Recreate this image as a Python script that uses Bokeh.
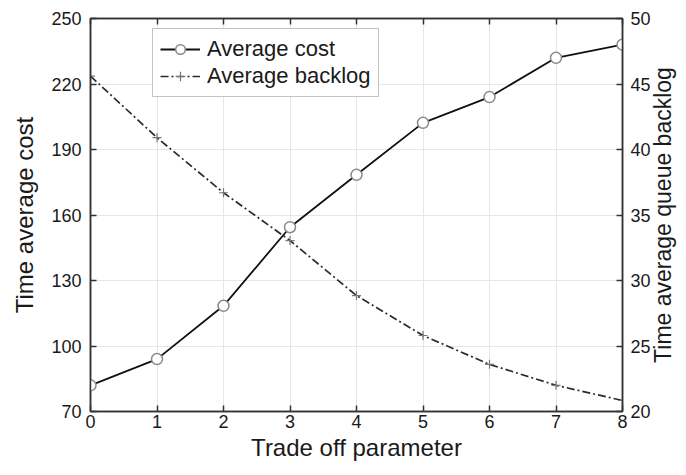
import math
from bokeh.plotting import figure
from bokeh.models import LinearAxis, Range1d, FixedTicker, Legend, LegendItem, Label
from bokeh.embed import file_html
from bokeh.resources import INLINE

x_vals = [0, 1, 2, 3, 4, 5, 6, 7, 8]
avg_cost = [82, 94, 118.4, 154.4, 178.4, 202.2, 214, 232, 238]
avg_backlog = [45.6, 40.9, 36.7, 33.05, 28.85, 25.8, 23.6, 22.0, 20.84]
x_ticks = [0, 1, 2, 3, 4, 5, 6, 7, 8]
left_ticks = [70, 100, 130, 160, 190, 220, 250]
right_ticks = [20, 25, 30, 35, 40, 45, 50]

FONT = "Liberation Sans"
TXT = "#1a1a1a"
AX = "#333333"

W, H = 680, 470
BL, BR, BT, BB = 90, 58, 18, 59
FW, FH = W - BL - BR, H - BT - BB

p = figure(width=W, height=H, output_backend="svg", toolbar_location=None,
           x_range=Range1d(0, 8), y_range=Range1d(70, 250),
           min_border_left=BL, min_border_right=BR, min_border_top=BT, min_border_bottom=BB)
p.extra_y_ranges = {"right": Range1d(20, 50)}

p.outline_line_color = AX
p.outline_line_width = 1.5
p.background_fill_color = "white"
p.border_fill_color = "white"

for g in (p.xgrid, p.ygrid):
    g.grid_line_color = "#e6e6e6"
    g.grid_line_width = 1
p.xgrid.ticker = FixedTicker(ticks=x_ticks)
p.ygrid.ticker = FixedTicker(ticks=left_ticks)

def style_axis(ax):
    ax.axis_line_color = AX
    ax.axis_line_width = 1.5
    ax.major_tick_line_color = AX
    ax.major_tick_line_width = 1.5
    ax.major_tick_in = 6
    ax.major_tick_out = 0
    ax.minor_tick_line_color = None
    ax.major_label_text_font = FONT
    ax.major_label_text_font_size = "18px"
    ax.major_label_text_color = TXT
    ax.axis_label_text_font = FONT
    ax.axis_label_text_font_size = "24px"
    ax.axis_label_text_font_style = "normal"
    ax.axis_label_text_color = TXT

xa = p.xaxis[0]
xa.ticker = FixedTicker(ticks=x_ticks)
xa.axis_label = "Trade off parameter"
style_axis(xa)
xa.major_label_standoff = 3
xa.axis_label_standoff = 3

ya = p.yaxis[0]
ya.ticker = FixedTicker(ticks=left_ticks)
ya.axis_label = "Time average cost"
style_axis(ya)
ya.major_label_standoff = 9
ya.axis_label_standoff = 10

ra = LinearAxis(y_range_name="right", ticker=FixedTicker(ticks=right_ticks))
style_axis(ra)
ra.major_label_standoff = 8
p.add_layout(ra, "right")

right_title = Label(x=9, y=FH / 2, x_units="screen", y_units="screen",
                    text="Time average queue backlog", angle=math.pi / 2,
                    text_align="center", text_baseline="middle",
                    text_font=FONT, text_font_size="23px", text_color=TXT)
p.add_layout(right_title, "right")

ta = LinearAxis(ticker=FixedTicker(ticks=x_ticks))
style_axis(ta)
ta.major_label_text_font_size = "0px"
ta.major_label_text_color = None
ta.major_label_standoff = 0
p.add_layout(ta, "above")

l1 = p.line(x_vals, avg_cost, line_color="#111111", line_width=1.8)
m1 = p.scatter(x_vals, avg_cost, marker="circle", size=11, line_color="#8a8a8a",
               line_width=1.5, fill_color="white")
l2 = p.line(x_vals, avg_backlog, y_range_name="right", line_color="#2a2a2a",
            line_width=1.7, line_dash="8 3 2 3")
m2 = p.scatter(x_vals, avg_backlog, y_range_name="right", marker="cross", size=9,
               line_color="#777777", line_width=1.2)

legend = Legend(items=[LegendItem(label="Average cost", renderers=[l1, m1]),
                       LegendItem(label="Average backlog", renderers=[l2, m2])],
                location=(62, 314))
legend.label_text_font = FONT
legend.label_text_font_size = "22px"
legend.label_text_color = TXT
legend.border_line_color = "#888888"
legend.border_line_width = 1.2
legend.glyph_width = 40
legend.glyph_height = 24
legend.label_height = 24
legend.label_standoff = 7
legend.spacing = 1
legend.padding = 7
legend.margin = 0
legend.background_fill_alpha = 1
p.add_layout(legend, "center")

open("out.html", "w").write(file_html(p, INLINE))
